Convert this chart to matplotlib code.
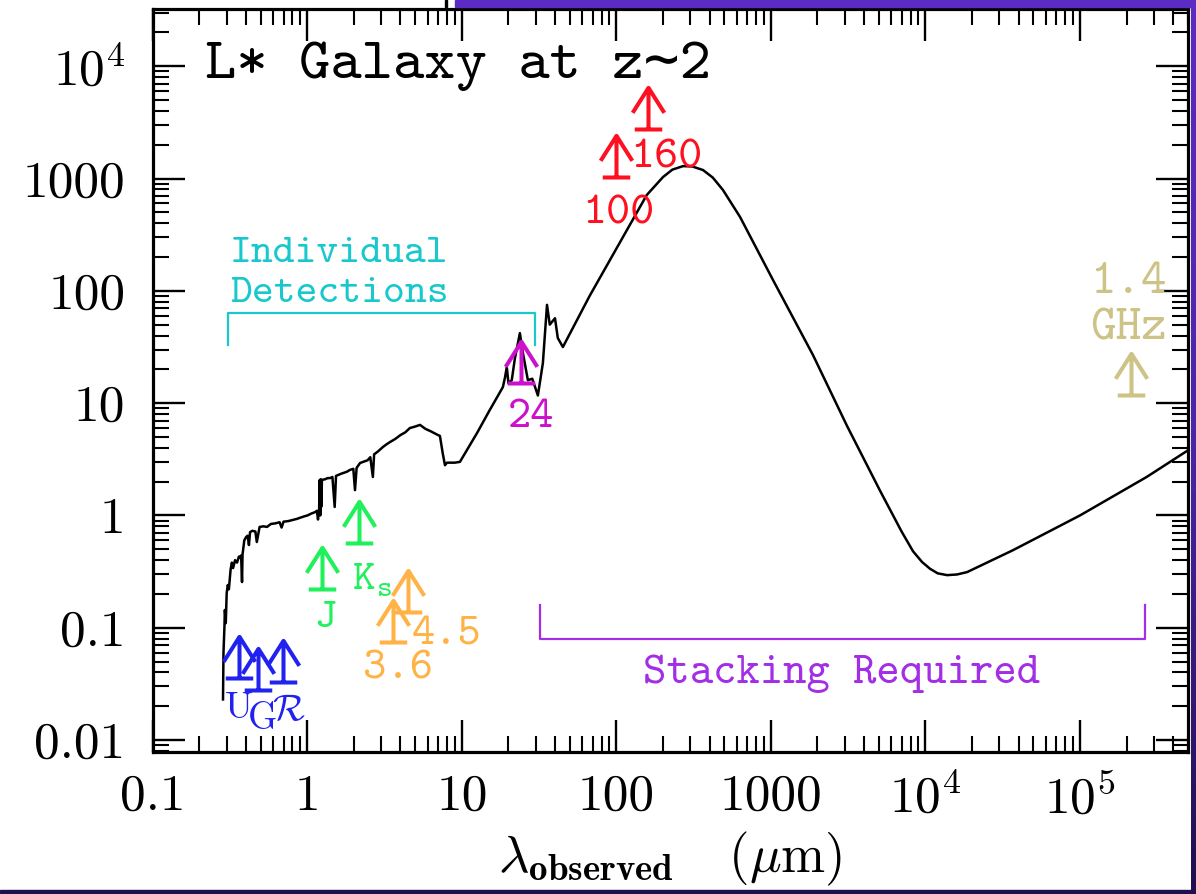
import numpy as np
import matplotlib
matplotlib.use('Agg')
import matplotlib.pyplot as plt
from matplotlib.path import Path
from matplotlib.markers import MarkerStyle
from matplotlib.patches import Rectangle
from matplotlib.colors import LinearSegmentedColormap
from matplotlib.ticker import FixedLocator, FixedFormatter, LogLocator, NullFormatter

plt.rcParams['font.family'] = 'cmr10'
plt.rcParams['mathtext.fontset'] = 'cm'
plt.rcParams['axes.unicode_minus'] = False

# SED of an L* galaxy at z~2 (observed wavelength in micron, flux in arbitrary units)
sed_wave = [0.284, 0.286, 0.290, 0.292, 0.296, 0.300, 0.305, 0.310, 0.318, 0.324,
            0.330, 0.340, 0.350, 0.360, 0.366, 0.372, 0.377, 0.380, 0.390, 0.400,
            0.410, 0.418, 0.425, 0.440, 0.460, 0.470, 0.490, 0.520, 0.547, 0.580,
            0.620, 0.660, 0.680, 0.700, 0.750, 0.800, 0.850, 0.890, 0.950, 1.00,
            1.06, 1.12, 1.15, 1.17, 1.19, 1.20, 1.21, 1.22, 1.23, 1.24,
            1.30, 1.35, 1.40, 1.45, 1.50, 1.53, 1.65, 1.80, 1.88, 1.98,
            2.03, 2.08, 2.19, 2.30, 2.45, 2.55, 2.65, 2.70, 2.85, 3.08,
            3.25, 3.42, 3.70, 4.00, 4.30, 4.60, 5.00, 5.35, 5.80, 6.30,
            6.80, 7.20, 7.50, 7.76, 8.00, 9.00, 9.70,
            12.5, 15.0, 18.4, 19.0, 19.5, 20.0, 21.0, 22.0, 23.7, 24.8,
            26.7, 28.5, 31.0, 33.4, 35.5, 37.0, 40.0, 41.7, 45.0, 67.0,
            110, 157, 200, 230, 270, 310, 363, 420, 489, 631,
            1030, 1870, 3100, 5080, 7000, 8300, 9500, 10700, 12000, 13800,
            16000, 18600, 36800, 1.0e5, 2.7e5, 5.0e5]
sed_flux = [0.023, 0.060, 0.100, 0.144, 0.110, 0.204, 0.240, 0.220, 0.330, 0.380,
            0.340, 0.400, 0.380, 0.430, 0.420, 0.440, 0.255, 0.450, 0.600, 0.640,
            0.660, 0.545, 0.710, 0.730, 0.720, 0.580, 0.790, 0.800, 0.790, 0.840,
            0.850, 0.870, 0.780, 0.880, 0.890, 0.910, 0.930, 0.950, 0.980, 1.00,
            1.04, 1.07, 1.10, 0.92, 1.15, 2.07, 1.00, 2.10, 1.20, 2.07,
            2.10, 2.15, 2.15, 2.20, 1.19, 2.25, 2.35, 2.45, 2.54, 2.60,
            1.68, 2.65, 2.93, 3.00, 3.10, 3.30, 2.20, 3.50, 3.70, 4.07,
            4.30, 4.50, 4.80, 5.20, 5.50, 6.00, 6.20, 6.40, 5.90, 5.60,
            5.30, 5.10, 3.60, 2.80, 2.95, 2.95, 3.00,
            5.4, 8.5, 13.9, 17.0, 21.0, 15.0, 16.0, 25.0, 42.0, 28.0,
            16.0, 16.5, 11.7, 22.8, 75.0, 50.0, 57.0, 38.0, 31.6, 90.0,
            301, 713, 1030, 1200, 1290, 1280, 1190, 1020, 790, 454,
            125, 26.8, 6.3, 1.66, 0.72, 0.48, 0.385, 0.335, 0.305, 0.294,
            0.298, 0.313, 0.49, 1.0, 2.2, 3.8]

# photometric detection limits, grouped by instrument
optical_wave = [0.36, 0.48, 0.69]
optical_flux = [0.036, 0.028, 0.033]
nir_wave = [1.25, 2.15]
nir_flux = [0.22, 0.57]
irac_wave = [3.6, 4.5]
irac_flux = [0.075, 0.138]
mips_wave = [24.0]
mips_flux = [15.1]
pacs_wave = [100.0, 160.0]
pacs_flux = [1030.0, 2750.0]
radio_wave = [2.14e5]
radio_flux = [11.8]

# brackets marking the two regimes
detect_wave = [0.305, 0.305, 29.6, 29.6]
detect_flux = [32.9, 63.4, 63.4, 32.9]
stack_wave = [32.0, 32.0, 2.63e5, 2.63e5]
stack_flux = [0.159, 0.0795, 0.0795, 0.159]

xticks = [0.1, 1, 10, 100, 1000, 1e4, 1e5]
xticklabels = ['0.1', '1', '10', '100', '1000', r'$10^4$', r'$10^5$']
yticks = [0.01, 0.1, 1, 10, 100, 1000, 1e4]
yticklabels = ['0.01', '0.1', '1', '10', '100', '1000', r'$10^4$']

blue = '#2222f0'
green = '#1ff05c'
orange = '#ffb347'
magenta = '#cc10cc'
red = '#ff1020'
khaki = '#cdc386'
cyan = '#18c8cc'
purple = '#a22ee6'

# upward arrow with a base bar, base sits on the data point
arrow_path = Path([(-0.33, 0), (0.33, 0), (0, 0), (0, 1), (-0.38, 0.4), (0, 1), (0.38, 0.4)],
                  [Path.MOVETO, Path.LINETO, Path.MOVETO, Path.LINETO,
                   Path.MOVETO, Path.LINETO, Path.LINETO])
arrow = MarkerStyle(arrow_path, joinstyle='miter')

fig = plt.figure(figsize=(11.96, 8.94), dpi=100)
ax = fig.add_axes([0.1279, 0.1588, 0.8654, 0.8311])

ax.plot(sed_wave, sed_flux, color='black', lw=1.8, zorder=3)

for wv, fl, col in [(optical_wave, optical_flux, blue), (nir_wave, nir_flux, green),
                    (irac_wave, irac_flux, orange), (mips_wave, mips_flux, magenta),
                    (pacs_wave, pacs_flux, red), (radio_wave, radio_flux, khaki)]:
    ax.plot(wv, fl, ls='none', marker=arrow, ms=60, mfc='none', mec=col, mew=2.9, zorder=4)

ax.plot(detect_wave, detect_flux, color=cyan, lw=1.6)
ax.plot(stack_wave, stack_flux, color=purple, lw=1.6)

ax.set_xscale('log')
ax.set_yscale('log')
ax.set_xlim(0.1, 5.0e5)
ax.set_ylim(0.00782, 3.23e4)

ax.xaxis.set_major_locator(FixedLocator(xticks))
ax.xaxis.set_major_formatter(FixedFormatter(xticklabels))
ax.yaxis.set_major_locator(FixedLocator(yticks))
ax.yaxis.set_major_formatter(FixedFormatter(yticklabels))
for axis in (ax.xaxis, ax.yaxis):
    axis.set_minor_locator(LogLocator(base=10, subs=np.arange(2, 10), numticks=20))
    axis.set_minor_formatter(NullFormatter())

ax.tick_params(which='both', direction='in', top=True, right=True, labelsize=37)
ax.tick_params(which='major', length=23, width=1.7)
ax.tick_params(which='minor', length=11.5, width=1.5)
ax.tick_params(axis='x', pad=16)
ax.tick_params(axis='y', pad=20)
for sp in ax.spines.values():
    sp.set_linewidth(2.3)

ax.set_xlabel(r'$\lambda_{\mathbf{observed}}$   ($\mu$m)', fontsize=38, labelpad=5)

tt = 'cmtt10'
ax.text(0.05, 0.907, 'L* Galaxy at z\u223c2', transform=ax.transAxes,
        family=[tt, 'DejaVu Sans Mono'], fontsize=43)
ax.text(0.315, 180, 'Individual', family=tt, fontsize=30, color=cyan, va='baseline')
ax.text(0.315, 79.4, 'Detections', family=tt, fontsize=30, color=cyan, va='baseline')
ax.text(2840, 0.0322, 'Stacking Required', family=tt, fontsize=32, color=purple,
        ha='center', va='baseline')

ax.text(0.362, 0.0157, 'U', fontsize=27, color=blue, ha='center', va='baseline')
ax.text(0.510, 0.0125, 'G', fontsize=27, color=blue, ha='center', va='baseline')
ax.text(0.755, 0.0151, r'$\mathcal{R}$', fontsize=27, color=blue, ha='center', va='baseline')
ax.text(1.298, 0.101, 'J', family=tt, fontsize=31, color=green, ha='center', va='baseline')
ax.text(1.94, 0.217, r'K$_\mathtt{s}$', family=tt, fontsize=31, color=green, va='baseline')
ax.text(3.85, 0.0356, '3.6', family=tt, fontsize=32, color=orange, ha='center', va='baseline')
ax.text(8.0, 0.0702, '4.5', family=tt, fontsize=32, color=orange, ha='center', va='baseline')
ax.text(27.97, 6.12, '24', family=tt, fontsize=32, color=magenta, ha='center', va='baseline')
ax.text(102.3, 401, '100', family=tt, fontsize=33, color=red, ha='center', va='baseline')
ax.text(212, 1241, '160', family=tt, fontsize=33, color=red, ha='center', va='baseline')
ax.text(2.05e5, 95.5, '1.4', family=tt, fontsize=35, color=khaki, ha='center', va='baseline')
ax.text(2.05e5, 36.5, 'GHz', family=tt, fontsize=35, color=khaki, ha='center', va='baseline')

# slide border around the plot
fig.patches.append(Rectangle((0, 0), 1, 4 / 894, transform=fig.transFigure,
                             color='#1f0f4e', zorder=10))
fig.patches.append(Rectangle((455 / 1196, 1 - 7 / 894), 1, 7 / 894, transform=fig.transFigure,
                             color='#5b2bc4', zorder=10))
fig.patches.append(Rectangle((445 / 1196, 1 - 7 / 894), 2 / 1196, 7 / 894,
                             transform=fig.transFigure, color='black', zorder=10))
edge = fig.add_axes([1191 / 1196, 0, 5 / 1196, 1])
edge.imshow(np.linspace(1, 0, 100).reshape(-1, 1), aspect='auto',
            cmap=LinearSegmentedColormap.from_list('edge', ['#1f0f4e', '#4a25a8', '#5b2bc4']))
edge.set_axis_off()

fig.savefig('out.png', dpi=100)
